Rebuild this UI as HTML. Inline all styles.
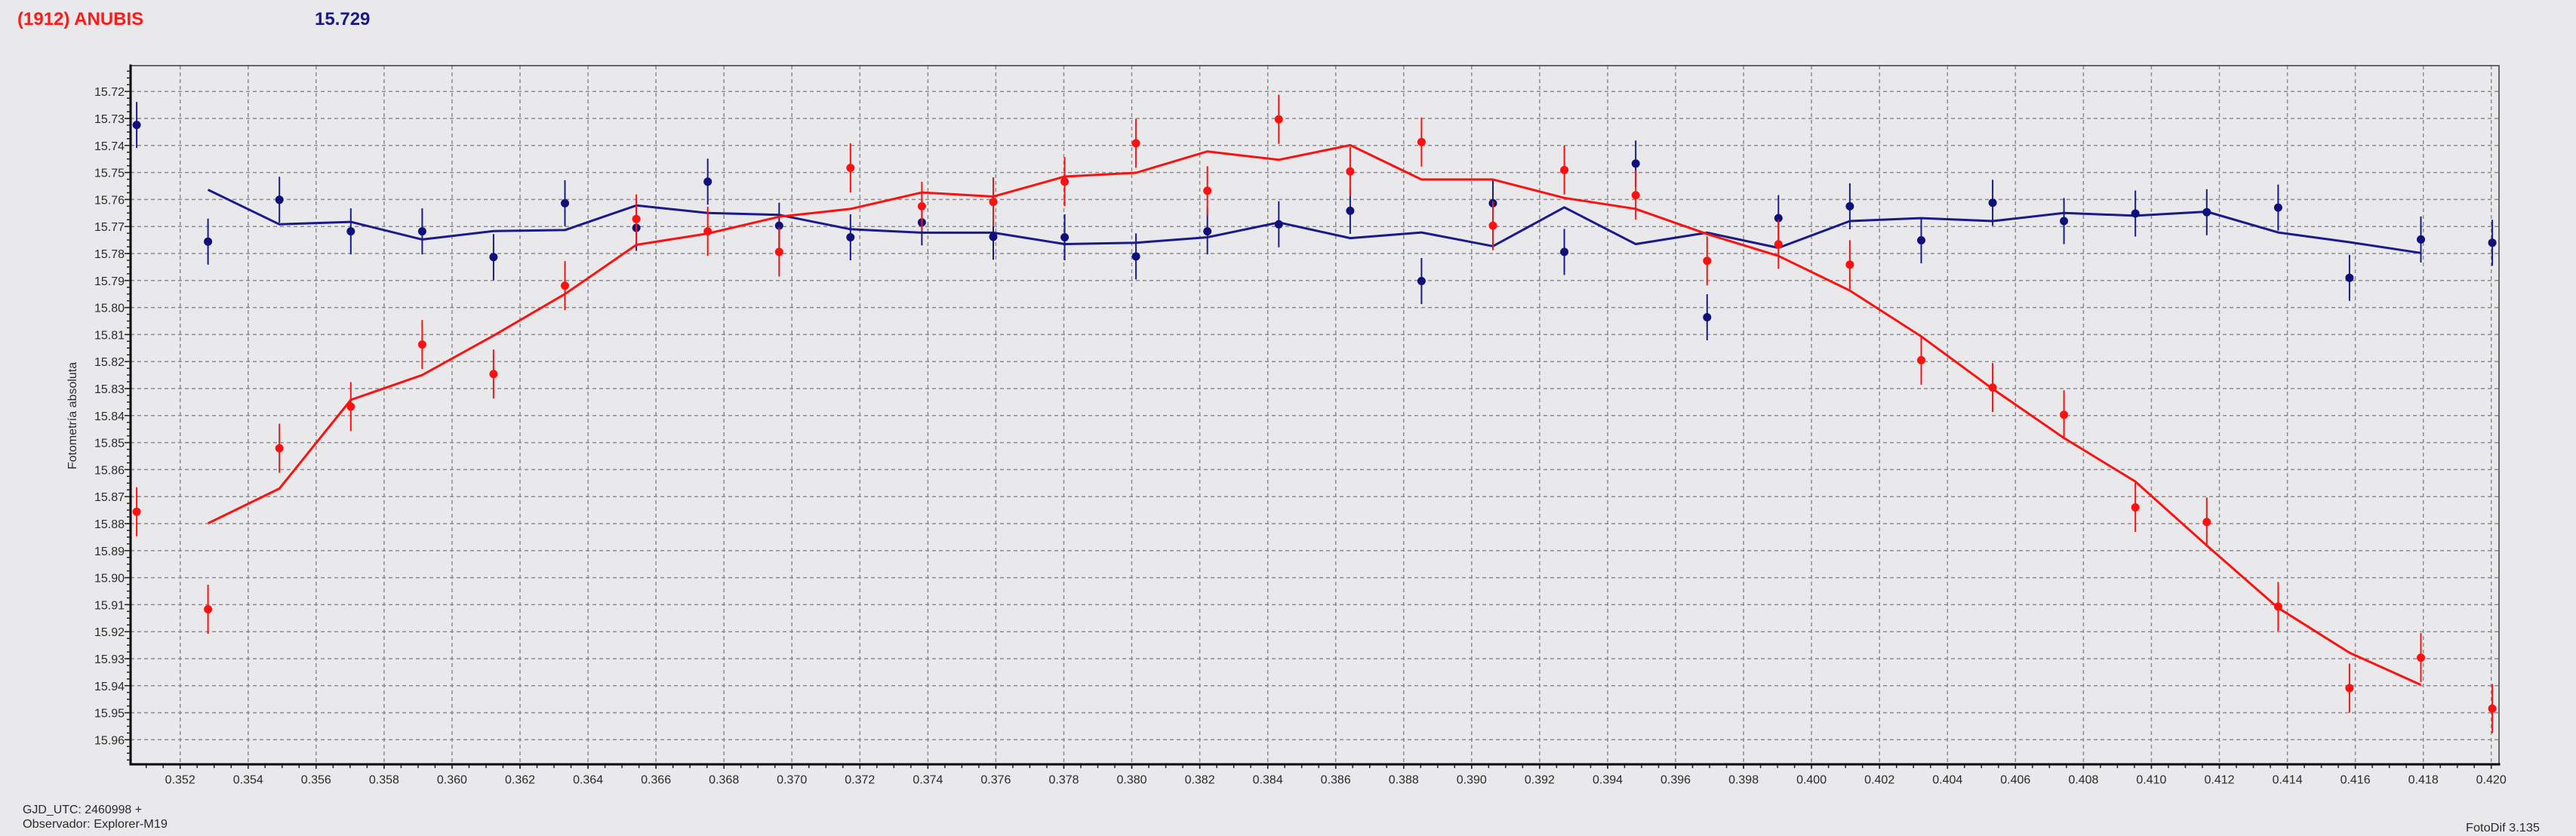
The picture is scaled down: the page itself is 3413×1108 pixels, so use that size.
<!DOCTYPE html>
<html><head><meta charset="utf-8"><style>
html,body{margin:0;padding:0;background:#e9e9eb;}
svg{display:block;}
text{font-family:"Liberation Sans",Arial,sans-serif;}
</style></head><body>
<svg width="3413" height="1108" viewBox="0 0 3413 1108" xmlns="http://www.w3.org/2000/svg">
<defs>
<pattern id="ymin" patternUnits="userSpaceOnUse" x="0" y="120.45" width="10" height="8.95"><rect x="0" y="0" width="10" height="1.5" fill="#222"/></pattern>
<pattern id="xmin" patternUnits="userSpaceOnUse" x="237.95" y="0" width="22.515" height="10"><rect x="0" y="0" width="1.5" height="10" fill="#222"/></pattern>
</defs>
<rect width="3413" height="1108" fill="#e9e9eb"/>

<text x="23" y="33" font-size="24" font-weight="bold" fill="#ff1a1a">(1912) ANUBIS</text>
<text x="417" y="33" font-size="24" font-weight="bold" fill="#1a1a80">15.729</text>

<g stroke="#8a8a8a" stroke-width="1.5" stroke-dasharray="5,4" fill="none">
<path d="M173 121.2H3311M173 157H3311M173 192.8H3311M173 228.6H3311M173 264.4H3311M173 300.2H3311M173 336H3311M173 371.8H3311M173 407.6H3311M173 443.4H3311M173 479.2H3311M173 515H3311M173 550.8H3311M173 586.6H3311M173 622.4H3311M173 658.2H3311M173 694H3311M173 729.8H3311M173 765.6H3311M173 801.4H3311M173 837.2H3311M173 873H3311M173 908.8H3311M173 944.6H3311M173 980.4H3311"/>
<path d="M238.7 87V1013M328.8 87V1013M418.8 87V1013M508.9 87V1013M598.9 87V1013M689 87V1013M779.1 87V1013M869.1 87V1013M959.2 87V1013M1049.2 87V1013M1139.3 87V1013M1229.4 87V1013M1319.4 87V1013M1409.5 87V1013M1499.5 87V1013M1589.6 87V1013M1679.7 87V1013M1769.7 87V1013M1859.8 87V1013M1949.8 87V1013M2039.9 87V1013M2130 87V1013M2220 87V1013M2310.1 87V1013M2400.1 87V1013M2490.2 87V1013M2580.3 87V1013M2670.3 87V1013M2760.4 87V1013M2850.4 87V1013M2940.5 87V1013M3030.6 87V1013M3120.6 87V1013M3210.7 87V1013M3300.7 87V1013"/>
</g>

<!-- blue series -->
<path fill="none" stroke="#1a1a8c" stroke-width="2" d="M181.1 135.1V196.1M275.6 289.7V350.7M370.2 234.3V295.3M464.8 276.1V337.1M559.4 276.1V337.1M653.9 310.2V371.2M748.5 238.9V299.9M843.1 271.5V332.5M937.7 210.3V271.3M1032.3 268.6V329.6M1126.8 284V345M1221.4 264.3V325.3M1316 283.3V344.3M1410.6 284V345M1505.1 309.4V370.4M1599.7 276.1V337.1M1694.3 266.8V327.8M1788.9 248.9V309.9M1883.4 342V403M1978 238.9V299.9M2072.6 303.4V364.4M2167.2 186.3V247.3M2261.8 390V451M2356.3 258.6V319.6M2450.9 242.9V303.9M2545.5 288V349M2640.1 238.2V299.2M2734.6 262.5V323.5M2829.2 252.5V313.5M2923.8 250.7V311.7M3018.4 244.6V305.6M3112.9 337.7V398.7M3207.5 286.9V347.9M3302.1 291.2V352.2"/>
<polyline fill="none" stroke="#1a1a8c" stroke-width="3" stroke-linejoin="round" points="275.6,251.5 370.2,297.3 464.8,294.1 559.4,317.4 653.9,306.3 748.5,304.9 843.1,272.3 937.7,282.3 1032.3,284.8 1126.8,303.8 1221.4,308.4 1316,308.4 1410.6,323.5 1505.1,321.7 1599.7,314.5 1694.3,294.8 1788.9,315.6 1883.4,308.1 1978,326.3 2072.6,274.8 2167.2,323.5 2261.8,308.4 2356.3,328.5 2450.9,293 2545.5,289.1 2640.1,293 2734.6,282.3 2829.2,285.9 2923.8,280.5 3018.4,308.1 3112.9,321 3207.5,335.3"/>
<path fill="none" stroke="#10107a" stroke-width="11" stroke-linecap="round" d="M181.1 165.6h0M275.6 320.2h0M370.2 264.8h0M464.8 306.6h0M559.4 306.6h0M653.9 340.7h0M748.5 269.4h0M843.1 302h0M937.7 240.8h0M1032.3 299.1h0M1126.8 314.5h0M1221.4 294.8h0M1316 313.8h0M1410.6 314.5h0M1505.1 339.9h0M1599.7 306.6h0M1694.3 297.3h0M1788.9 279.4h0M1883.4 372.5h0M1978 269.4h0M2072.6 333.9h0M2167.2 216.8h0M2261.8 420.5h0M2356.3 289.1h0M2450.9 273.4h0M2545.5 318.5h0M2640.1 268.7h0M2734.6 293h0M2829.2 283h0M2923.8 281.2h0M3018.4 275.1h0M3112.9 368.2h0M3207.5 317.4h0M3302.1 321.7h0"/>

<!-- red series -->
<path fill="none" stroke="#ff1010" stroke-width="2" d="M181.1 645.7V710.7M275.6 775V840M370.2 561.6V626.6M464.8 506.5V571.5M559.4 424.1V489.1M653.9 463.2V528.2M748.5 346.1V411.1M843.1 257.7V322.7M937.7 274.1V339.1M1032.3 301.4V366.4M1126.8 190V255M1221.4 240.9V305.9M1316 235.1V300.1M1410.6 208.3V273.3M1505.1 157.4V222.4M1599.7 220.4V285.4M1694.3 125.6V190.6M1788.9 194.7V259.7M1883.4 155.7V220.7M1978 266.6V331.6M2072.6 192.9V257.9M2167.2 226.2V291.2M2261.8 313.2V378.2M2356.3 291.3V356.3M2450.9 318.2V383.2M2545.5 444.9V509.9M2640.1 481.1V546.1M2734.6 517.2V582.2M2829.2 640V705M2923.8 659.4V724.4M3018.4 771.4V836.4M3112.9 879.5V944.5M3207.5 839.1V904.1M3302.1 906.7V971.7"/>
<polyline fill="none" stroke="#ff1010" stroke-width="3" stroke-linejoin="round" points="275.6,693.6 370.2,647.5 464.8,530 559.4,497.1 653.9,444.8 748.5,389.7 843.1,324.5 937.7,309.5 1032.3,287.3 1126.8,276.9 1221.4,255.1 1316,260.5 1410.6,234 1505.1,229 1599.7,200.7 1694.3,211.8 1788.9,192.4 1883.4,237.9 1978,237.9 2072.6,262.3 2167.2,276.9 2261.8,310.2 2356.3,339.2 2450.9,385.1 2545.5,445.9 2640.1,515.4 2734.6,580.5 2829.2,638.2 2923.8,723 3018.4,805.7 3112.9,865.1 3207.5,907.7"/>
<path fill="none" stroke="#ff1010" stroke-width="11" stroke-linecap="round" d="M181.1 678.2h0M275.6 807.5h0M370.2 594.1h0M464.8 539h0M559.4 456.6h0M653.9 495.7h0M748.5 378.6h0M843.1 290.2h0M937.7 306.6h0M1032.3 333.9h0M1126.8 222.5h0M1221.4 273.4h0M1316 267.6h0M1410.6 240.8h0M1505.1 189.9h0M1599.7 252.9h0M1694.3 158.1h0M1788.9 227.2h0M1883.4 188.2h0M1978 299.1h0M2072.6 225.4h0M2167.2 258.7h0M2261.8 345.7h0M2356.3 323.8h0M2450.9 350.7h0M2545.5 477.4h0M2640.1 513.6h0M2734.6 549.7h0M2829.2 672.5h0M2923.8 691.9h0M3018.4 803.9h0M3112.9 912h0M3207.5 871.6h0M3302.1 939.2h0"/>

<!-- frame -->
<path d="M173 87H3311V1013" fill="none" stroke="#3a3a3a" stroke-width="1.5"/>
<path d="M173 85.5V1014.5M171.5 1013H3312.5" fill="none" stroke="#000" stroke-width="3"/>
<rect x="168" y="87" width="5" height="926" fill="url(#ymin)"/>
<rect x="173" y="1014" width="3138" height="4" fill="url(#xmin)"/>
<path fill="none" stroke="#222" stroke-width="1.5" d="M165 121.2H173M165 157H173M165 192.8H173M165 228.6H173M165 264.4H173M165 300.2H173M165 336H173M165 371.8H173M165 407.6H173M165 443.4H173M165 479.2H173M165 515H173M165 550.8H173M165 586.6H173M165 622.4H173M165 658.2H173M165 694H173M165 729.8H173M165 765.6H173M165 801.4H173M165 837.2H173M165 873H173M165 908.8H173M165 944.6H173M165 980.4H173"/>
<path fill="none" stroke="#222" stroke-width="1.5" d="M238.7 1013V1019M328.8 1013V1019M418.8 1013V1019M508.9 1013V1019M598.9 1013V1019M689 1013V1019M779.1 1013V1019M869.1 1013V1019M959.2 1013V1019M1049.2 1013V1019M1139.3 1013V1019M1229.4 1013V1019M1319.4 1013V1019M1409.5 1013V1019M1499.5 1013V1019M1589.6 1013V1019M1679.7 1013V1019M1769.7 1013V1019M1859.8 1013V1019M1949.8 1013V1019M2039.9 1013V1019M2130 1013V1019M2220 1013V1019M2310.1 1013V1019M2400.1 1013V1019M2490.2 1013V1019M2580.3 1013V1019M2670.3 1013V1019M2760.4 1013V1019M2850.4 1013V1019M2940.5 1013V1019M3030.6 1013V1019M3120.6 1013V1019M3210.7 1013V1019M3300.7 1013V1019"/>

<!-- y tick labels -->
<g font-size="16" fill="#2a2a2a" text-anchor="end">
<text x="165" y="127.2">15.72</text><text x="165" y="163">15.73</text><text x="165" y="198.8">15.74</text><text x="165" y="234.6">15.75</text><text x="165" y="270.4">15.76</text><text x="165" y="306.2">15.77</text><text x="165" y="342">15.78</text><text x="165" y="377.8">15.79</text><text x="165" y="413.6">15.80</text><text x="165" y="449.4">15.81</text><text x="165" y="485.2">15.82</text><text x="165" y="521">15.83</text><text x="165" y="556.8">15.84</text><text x="165" y="592.6">15.85</text><text x="165" y="628.4">15.86</text><text x="165" y="664.2">15.87</text><text x="165" y="700">15.88</text><text x="165" y="735.8">15.89</text><text x="165" y="771.6">15.90</text><text x="165" y="807.4">15.91</text><text x="165" y="843.2">15.92</text><text x="165" y="879">15.93</text><text x="165" y="914.8">15.94</text><text x="165" y="950.6">15.95</text><text x="165" y="986.4">15.96</text>
</g>

<!-- x tick labels -->
<g font-size="16" fill="#2a2a2a" text-anchor="middle">
<text x="238.7" y="1038.5">0.352</text><text x="328.8" y="1038.5">0.354</text><text x="418.8" y="1038.5">0.356</text><text x="508.9" y="1038.5">0.358</text><text x="598.9" y="1038.5">0.360</text><text x="689" y="1038.5">0.362</text><text x="779.1" y="1038.5">0.364</text><text x="869.1" y="1038.5">0.366</text><text x="959.2" y="1038.5">0.368</text><text x="1049.2" y="1038.5">0.370</text><text x="1139.3" y="1038.5">0.372</text><text x="1229.4" y="1038.5">0.374</text><text x="1319.4" y="1038.5">0.376</text><text x="1409.5" y="1038.5">0.378</text><text x="1499.5" y="1038.5">0.380</text><text x="1589.6" y="1038.5">0.382</text><text x="1679.7" y="1038.5">0.384</text><text x="1769.7" y="1038.5">0.386</text><text x="1859.8" y="1038.5">0.388</text><text x="1949.8" y="1038.5">0.390</text><text x="2039.9" y="1038.5">0.392</text><text x="2130" y="1038.5">0.394</text><text x="2220" y="1038.5">0.396</text><text x="2310.1" y="1038.5">0.398</text><text x="2400.1" y="1038.5">0.400</text><text x="2490.2" y="1038.5">0.402</text><text x="2580.3" y="1038.5">0.404</text><text x="2670.3" y="1038.5">0.406</text><text x="2760.4" y="1038.5">0.408</text><text x="2850.4" y="1038.5">0.410</text><text x="2940.5" y="1038.5">0.412</text><text x="3030.6" y="1038.5">0.414</text><text x="3120.6" y="1038.5">0.416</text><text x="3210.7" y="1038.5">0.418</text><text x="3300.7" y="1038.5">0.420</text>
</g>

<text transform="translate(101,551) rotate(-90)" font-size="16" fill="#2a2a2a" text-anchor="middle">Fotometría absoluta</text>

<text x="30" y="1078" font-size="16" fill="#2a2a2a" textLength="158" lengthAdjust="spacingAndGlyphs">GJD_UTC: 2460998 +</text>
<text x="30" y="1097" font-size="16" fill="#2a2a2a" textLength="192" lengthAdjust="spacingAndGlyphs">Observador: Explorer-M19</text>
<text x="3267" y="1102" font-size="16" fill="#2a2a2a" textLength="98" lengthAdjust="spacingAndGlyphs">FotoDif 3.135</text>
</svg>
</body></html>
